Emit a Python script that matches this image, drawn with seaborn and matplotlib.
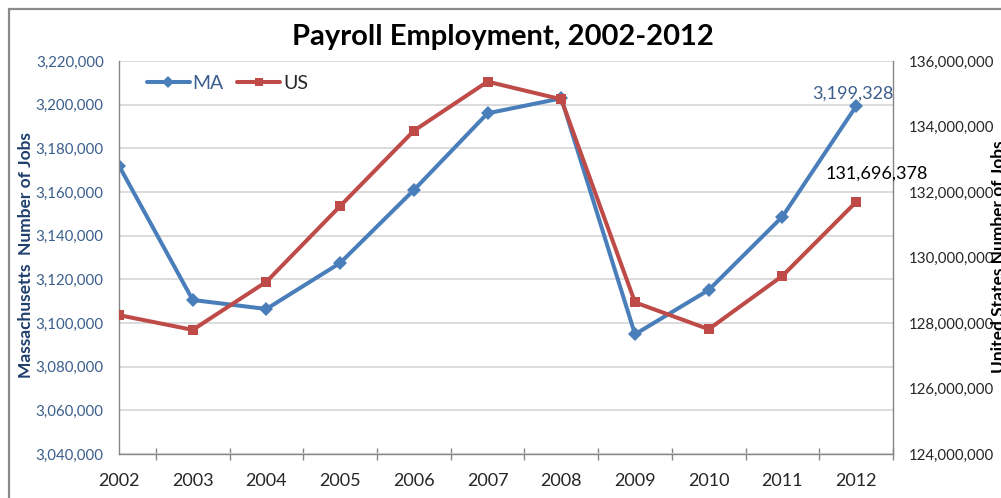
import numpy as np
import pandas as pd
import matplotlib
matplotlib.use("Agg")
import matplotlib.pyplot as plt
import seaborn as sns
from matplotlib.lines import Line2D
from matplotlib.patches import Rectangle
from matplotlib.ticker import FuncFormatter, MultipleLocator

# Annual payroll employment, Massachusetts and United States
years = ["2002", "2003", "2004", "2005", "2006", "2007",
         "2008", "2009", "2010", "2011", "2012"]
ma_jobs = [3172050, 3110540, 3106420, 3127500, 3160900, 3196050,
           3202900, 3094830, 3115120, 3148700, 3199328]
us_jobs = [128240000, 127790000, 129260000, 131570000, 133870000, 135370000,
           134830000, 128630000, 127810000, 129440000, 131696378]

MA_COLOR = "#4A7EBB"
US_COLOR = "#BE4B48"
MA_TEXT = "#3B5E8C"
DARK = "#262626"
GRID = "#D9D9D9"
SPINE = "#868686"

sns.set_style("white")
plt.rcParams["font.family"] = ["Lato", "DejaVu Sans"]

df = pd.DataFrame({"pos": np.arange(len(years)), "year": years,
                   "MA": ma_jobs, "US": us_jobs})

W, H = 1001, 498
fig = plt.figure(figsize=(W / 100, H / 100), dpi=100)
ax = fig.add_axes([119 / W, 1 - 454 / H, 774 / W, 393 / H])
ax2 = ax.twinx()

sns.lineplot(data=df, x="pos", y="MA", ax=ax, color=MA_COLOR, lw=2.9,
             marker="D", markersize=7, markeredgewidth=0, legend=False)
sns.lineplot(data=df, x="pos", y="US", ax=ax2, color=US_COLOR, lw=2.9,
             marker="s", markersize=6.5, markeredgewidth=0, legend=False)

# left axis: Massachusetts
ax.set_xlim(0, 10.5)
ax.set_ylim(3040000, 3220000)
ax.yaxis.set_major_locator(MultipleLocator(20000))
ax.yaxis.set_major_formatter(FuncFormatter(lambda v, p: f"{v:,.0f}"))
ax.grid(axis="y", color=GRID, lw=1.3)
ax.grid(axis="x", visible=False)
ax.set_axisbelow(True)
ax.set_xlabel("")
ax.set_ylabel("")

# right axis: United States
ax2.set_ylim(124000000, 136000000)
ax2.yaxis.set_major_locator(MultipleLocator(2000000))
ax2.yaxis.set_major_formatter(FuncFormatter(lambda v, p: f"{v:,.0f}"))
ax2.grid(False)
ax2.set_ylabel("")
ax2.patch.set_visible(False)

# category axis: labels on the points, tick marks between them
ax.set_xticks(df["pos"])
ax.set_xticklabels(years)
ax.set_xticks(np.arange(0.5, len(years), 1.0), minor=True)
ax.tick_params(axis="x", which="major", length=0, pad=14, labelsize=13,
               labelcolor=DARK)
ax.tick_params(axis="x", which="minor", direction="inout", length=8,
               width=1, color=SPINE, bottom=True)
ax.tick_params(axis="y", length=0, pad=11, labelsize=10.8, labelcolor=MA_TEXT)
ax2.tick_params(axis="y", length=0, pad=11, labelsize=10.8, labelcolor=DARK)

for a in (ax, ax2):
    a.spines["top"].set_visible(False)
    for s in ("left", "right", "bottom"):
        a.spines[s].set_color(SPINE)
        a.spines[s].set_linewidth(1.0)
ax.spines["right"].set_visible(False)
ax2.spines["left"].set_visible(False)
ax2.spines["bottom"].set_visible(False)

# legend
handles = [
    Line2D([0], [0], color=MA_COLOR, lw=2.9, marker="D", markersize=6,
           markeredgewidth=0),
    Line2D([0], [0], color=US_COLOR, lw=2.9, marker="s", markersize=6,
           markeredgewidth=0),
]
leg = ax.legend(handles, ["MA", "US"], ncol=2, loc="center left",
                bbox_to_anchor=(0.036, 0.944), frameon=False, borderpad=0,
                borderaxespad=0, handlelength=2.2, handletextpad=0.15,
                columnspacing=0.7, fontsize=14, numpoints=1)
leg.get_texts()[0].set_color(MA_TEXT)
leg.get_texts()[1].set_color(DARK)

# value labels on the 2012 points
ax.annotate(f"{ma_jobs[-1]:,}", xy=(df["pos"].iloc[-1], ma_jobs[-1]),
            xytext=(-3, 13), textcoords="offset pixels", ha="center",
            va="center", fontsize=13, color=MA_TEXT)
ax2.annotate(f"{us_jobs[-1]:,}", xy=(df["pos"].iloc[-1], us_jobs[-1]),
             xytext=(21, 28), textcoords="offset pixels", ha="center",
             va="center", fontsize=13, color="black")

# titles
fig.text(503 / W, 1 - 37 / H, "Payroll Employment, 2002-2012", ha="center",
         va="center", fontsize=21, fontweight="bold", color="black")
fig.text(26 / W, 1 - 255 / H, "Massachusetts  Number of Jobs", rotation=90,
         ha="center", va="center", fontsize=12.5, fontweight="bold",
         color="#1F3F6E")
fig.text(999 / W, 1 - 257 / H, "United States Number of Jobs", rotation=90,
         ha="center", va="center", fontsize=12.5, fontweight="bold",
         color="black")

# chart frame
fig.add_artist(Rectangle((9 / W, -0.2), 1.5, 1.2 - 9 / H,
                         transform=fig.transFigure, fill=False,
                         edgecolor="#8A8A8A", lw=1.6))

fig.savefig("out.png", dpi=100)
